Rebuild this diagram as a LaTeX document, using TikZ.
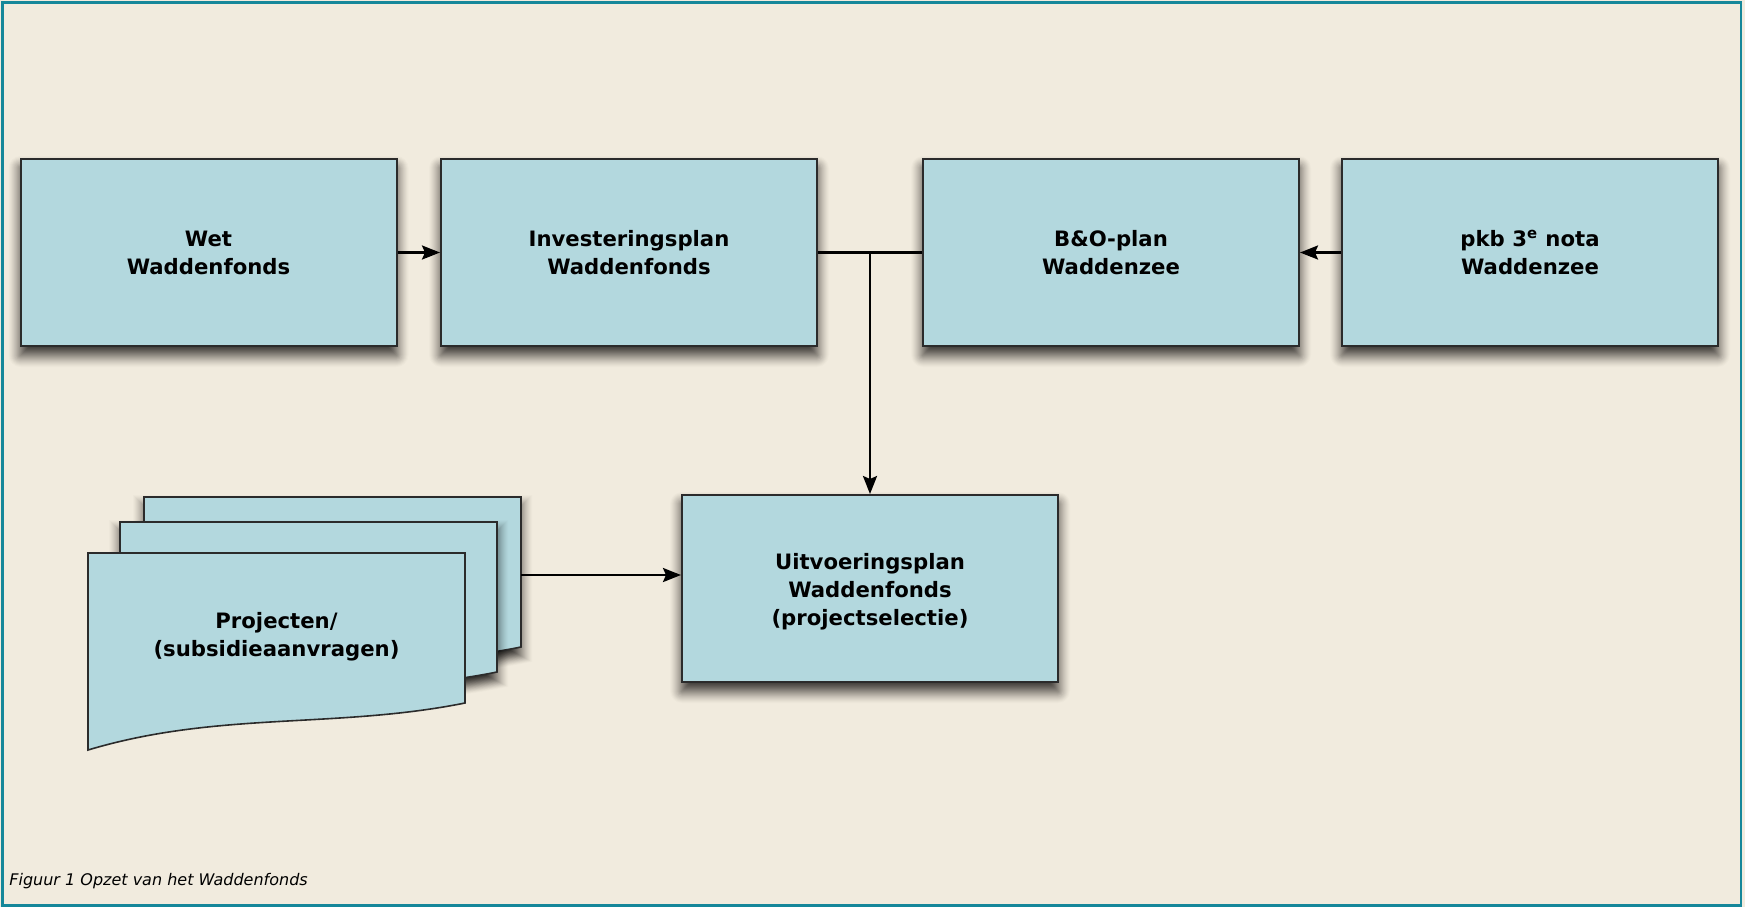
\documentclass[tikz,border=0pt]{standalone}
\usepackage{fontspec}
\setmainfont{DejaVu Sans}
\usetikzlibrary{arrows.meta,calc}
\pgfdeclarelayer{backlayer}
\pgfdeclarelayer{shadowlayer}
\pgfsetlayers{backlayer,shadowlayer,main}
\definecolor{bgc}{HTML}{F1EBDE}
\definecolor{boxc}{HTML}{B3D8DE}
\definecolor{edgec}{HTML}{2B2B2B}
\definecolor{framec}{HTML}{15879A}
\tikzset{
  boxst/.style={draw=edgec, line width=1pt, fill=boxc, minimum width=188pt, minimum height=93.5pt,
    inner sep=0pt, align=center, font=\bfseries\fontsize{10.6}{14}\selectfont},
  docst/.style={draw=edgec, line width=0.8pt, fill=boxc},
  conn/.style={line width=1.25pt, draw=black},
  arr/.style={conn, -{Stealth[length=9pt, width=7pt, inset=1.5pt]}},
}
\newcommand\docpath{(0,0) -- (377,0) -- (377,150) .. controls (247,176) and (130,158) .. (0,197) -- cycle}
\newcommand\boxshadow[1]{%
  \foreach \e in {11,10,...,-11}{%
    \pgfmathsetmacro\op{0.015+0.0042*(11-\e)}%
    \pgfmathsetmacro\rc{max(\e,0)*0.5+0.5}%
    \fill[black, opacity=\op, rounded corners=\rc pt] ($(#1.north west)+(-\e,9-\e)$) rectangle ($(#1.south east)+(\e,9+\e)$);}}
\newcommand\docshadow{%
  \foreach \e in {11,10,...,-11}{%
    \pgfmathsetmacro\op{0.015+0.0042*(11-\e)}%
    \pgfmathsetmacro\sx{(377+2*\e)/377}\pgfmathsetmacro\sy{(197+2*\e)/197}%
    \begin{scope}[shift={(188.5,107.5)}, xscale=\sx, yscale=\sy, shift={(-188.5,-98.5)}]
      \fill[black, opacity=\op] \docpath;
    \end{scope}}}
\begin{document}
\begin{tikzpicture}[x=0.5pt,y=-0.5pt]
\useasboundingbox (0,0) rectangle (1745,907);
\begin{pgfonlayer}{backlayer}
\fill[bgc] (0,0) rectangle (1745,907);
\end{pgfonlayer}
\draw[framec, line width=1.4pt] (2.2,2.5) rectangle (1741,905.5);

% top row
\node[boxst] (wet) at (208.5,252.5) {Wet\\Waddenfonds};
\node[boxst] (inv) at (629,252.5) {Investeringsplan\\Waddenfonds};
\node[boxst] (bo)  at (1111,252.5) {B\&O-plan\\Waddenzee};
\node[boxst] (pkb) at (1530,252.5) {pkb 3\textsuperscript{e} nota\\Waddenzee};
\node[boxst] (uit) at (870,588.5) {\mbox{}\\[-2.8pt]Uitvoeringsplan\\Waddenfonds\\(projectselectie)};

\begin{pgfonlayer}{shadowlayer}
\boxshadow{wet}\boxshadow{inv}\boxshadow{bo}\boxshadow{pkb}\boxshadow{uit}
\end{pgfonlayer}

% document stack
\begin{scope}[shift={(144,497)}]
\docshadow
\draw[docst] \docpath;
\end{scope}
\begin{scope}[shift={(120,522)}]
\docshadow
\draw[docst] \docpath;
\end{scope}
\begin{scope}[shift={(88,553)}]
\draw[docst] \docpath;
\end{scope}
\node[align=center, font=\bfseries\fontsize{10.6}{14}\selectfont] (proj) at (276.5,636.5) {Projecten/\\(subsidieaanvragen)};
\coordinate (docout) at (521,575);

% connectors
\draw[arr] (wet) -- (inv);
\draw[arr] (pkb) -- (bo);
\draw[conn] (inv.east) -- (bo.west);
\coordinate (j) at (uit.north |- inv.east);
\draw[arr] (j) -- (uit.north);
\draw[arr] (docout) -- (docout -| uit.west);

% caption
\node[anchor=base west, inner sep=0pt, font=\itshape\fontsize{8}{10}\selectfont] (cap) at (9,885) {Figuur 1 Opzet van het Waddenfonds};
\end{tikzpicture}
\end{document}
